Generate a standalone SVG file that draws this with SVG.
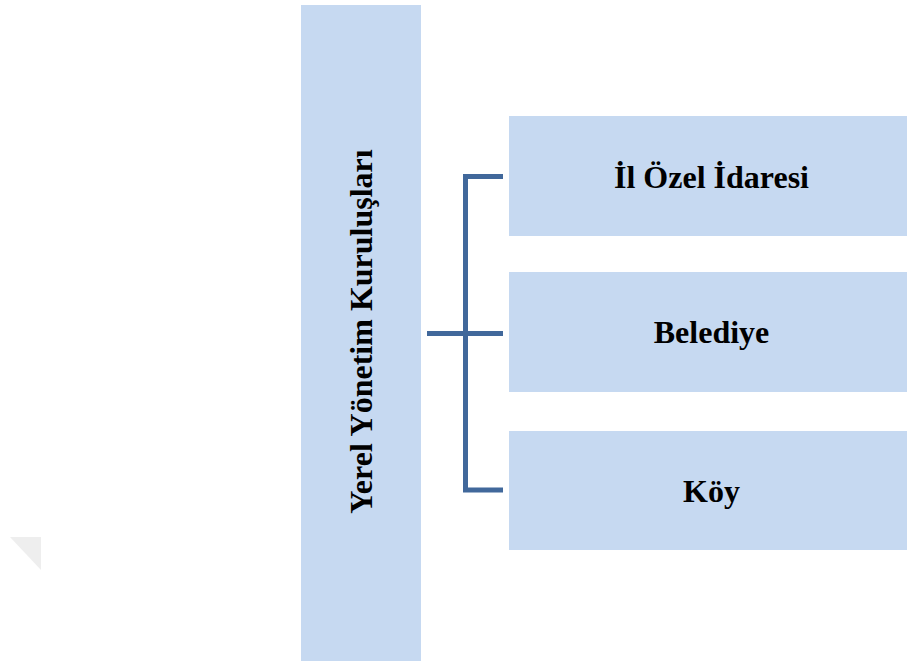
<svg xmlns="http://www.w3.org/2000/svg" width="907" height="663" viewBox="0 0 907 663">
<style>
.box{fill:#C6D9F1;}
.lbl{font-family:"Liberation Serif","Times New Roman",serif;font-weight:bold;font-size:32px;fill:#000;text-anchor:middle;}
.con{fill:none;stroke:#41689B;stroke-width:5;}
</style>
<rect width="907" height="663" fill="#fff"/>
<polygon points="10,537 41,537 41,570" fill="#EEEEEE"/>
<g id="main">
<rect class="box" x="301" y="5" width="120" height="656"/>
<text class="lbl" transform="translate(372,331.5) rotate(-90)">Yerel Yönetim Kuruluşları</text>
</g>
<g id="connectors">
<line class="con" x1="427" y1="333.5" x2="503" y2="333.5"/>
<polyline class="con" points="503,176.5 465.5,176.5 465.5,490 503,490"/>
</g>
<g id="ilozel">
<rect class="box" x="509" y="116" width="398" height="120"/>
<text class="lbl" x="711.5" y="188">İl Özel İdaresi</text>
</g>
<g id="belediye">
<rect class="box" x="509" y="272" width="398" height="120"/>
<text class="lbl" x="711.5" y="343">Belediye</text>
</g>
<g id="koy">
<rect class="box" x="509" y="431" width="398" height="119"/>
<text class="lbl" x="711.5" y="502">Köy</text>
</g>
</svg>
